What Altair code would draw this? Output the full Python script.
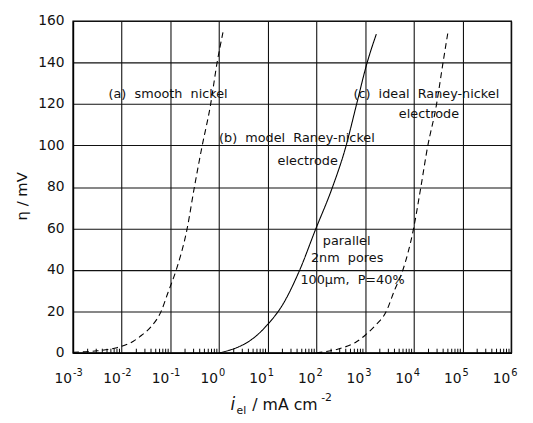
import altair as alt
import pandas as pd

# ---- data (log10 of current density / mA cm-2, overpotential / mV)
a_log = [-3.0, -2.5, -2.1, -1.76, -1.59, -1.4, -1.19, -1.05, -0.88, -0.66, -0.51, -0.35, -0.18, -0.04, 0.08]
a_eta = [0.3, 1.0, 2.5, 5.6, 8.5, 12.5, 20.0, 29.0, 40.0, 59.4, 79.5, 99.5, 118.9, 140.0, 154.5]
b_log = [0.0, 0.2, 0.43, 0.7, 0.99, 1.3, 1.65, 1.98, 2.32, 2.59, 2.83, 3.03, 3.23]
b_eta = [0.0, 1.2, 3.2, 7.0, 13.5, 23.0, 39.6, 59.4, 79.3, 98.3, 120.4, 139.0, 153.7]
c_log = [2.0, 2.5, 2.8, 3.0, 3.2, 3.43, 3.6, 3.77, 3.99, 4.14, 4.28, 4.46, 4.6, 4.7]
c_eta = [0.0, 2.2, 5.0, 8.5, 13.0, 19.8, 30.0, 39.6, 59.4, 79.3, 99.0, 119.0, 140.0, 154.5]

decades = [1e-3, 1e-2, 1e-1, 1e0, 1e1, 1e2, 1e3, 1e4, 1e5, 1e6]
dec_exp = ["-3", "-2", "-1", "0", "1", "2", "3", "4", "5", "6"]
minor_mult = [2, 3, 4, 5, 6, 7, 8, 9]
y_ticks = [0, 20, 40, 60, 80, 100, 120, 140, 160]

S = "\u00a0\u00a0"  # wide word gap as in the original lettering
ann_text = ["(a)" + S + "smooth" + S + "nickel", "(c)" + S + "ideal" + S + "Raney-nickel", "electrode",
            "(b)" + S + "model" + S + "Raney-nickel", "electrode", "parallel", "2nm" + S + "pores",
            "100μm," + S + "P=40%"]
ann_log = [-2.27, 2.76, 4.31, 0.0, 1.82, 2.62, 2.63, 2.74]
ann_eta = [125.0, 125.0, 114.9, 103.8, 92.7, 53.9, 45.5, 34.9]
ann_align = ["left", "left", "center", "left", "center", "center", "center", "center"]

rows = []
for name, lg, et in (("a", a_log, a_eta), ("b", b_log, b_eta), ("c", c_log, c_eta)):
    for l, e in zip(lg, et):
        rows.append({"curve": name, "i": 10 ** l, "eta": e})
df = pd.DataFrame(rows)

minor = pd.DataFrame([{"i": m * d, "y0": 0, "y1": 2.0} for d in decades[:-1] for m in minor_mult])
ann = pd.DataFrame({"text": ann_text, "i": [10 ** v for v in ann_log], "eta": ann_eta, "align": ann_align})
xlab = pd.DataFrame({"i": decades, "base": ["10"] * len(decades), "exp": dec_exp})

FONT = "DejaVu Sans"
INK = "#111"
W, H = 445, 337
x_scale = alt.Scale(type="log", domain=[1e-3, 1e6], nice=False)
y_scale = alt.Scale(domain=[0, 160], nice=False)

lines = alt.Chart(df).mark_line(color="black", strokeWidth=1.1, interpolate="monotone").encode(
    x=alt.X("i:Q", scale=x_scale,
            axis=alt.Axis(values=decades, labels=False, grid=True, ticks=False, title=None)),
    y=alt.Y("eta:Q", scale=y_scale,
            axis=alt.Axis(values=y_ticks, grid=True, ticks=False, title=None,
                          labelFontSize=14, labelPadding=9)),
    detail="curve:N",
    strokeDash=alt.StrokeDash("curve:N", scale=alt.Scale(domain=["a", "b", "c"],
                                                        range=[[6, 4], [1, 0], [6, 4]]), legend=None),
)

ticks = alt.Chart(minor).mark_rule(color="black", strokeWidth=1).encode(
    x=alt.X("i:Q", scale=x_scale), y=alt.Y("y0:Q", scale=y_scale), y2="y1:Q")

texts = []
for al in ("left", "center"):
    texts.append(alt.Chart(ann[ann["align"] == al]).mark_text(
        align=al, baseline="middle", font=FONT, fontSize=13, color=INK).encode(
        x=alt.X("i:Q", scale=x_scale), y=alt.Y("eta:Q", scale=y_scale), text="text:N"))

xbase = alt.Chart(xlab).mark_text(align="right", baseline="alphabetic", font=FONT, fontSize=14,
                                  color=INK, dx=-1).encode(
    x=alt.X("i:Q", scale=x_scale), y=alt.value(H + 31), text="base:N")
xexp = alt.Chart(xlab).mark_text(align="left", baseline="alphabetic", font=FONT, fontSize=10,
                                 color=INK, dx=0).encode(
    x=alt.X("i:Q", scale=x_scale), y=alt.value(H + 23), text="exp:N")

one = pd.DataFrame({"k": [0]})
def piece(txt, px, py, size, style="normal", angle=0, align="left"):
    return alt.Chart(one).mark_text(text=txt, align=align, baseline="alphabetic", font=FONT,
                                    fontSize=size, fontStyle=style, angle=angle, color=INK).encode(
        x=alt.value(px), y=alt.value(py))

titles = [piece("i", 160, 395, 17, "italic"), piece("el", 166, 399, 11),
          piece("/ mA cm", 182, 395, 16), piece("-2", 252, 386, 11),
          piece("η\u00a0/\u00a0mV", -47, 178, 15, angle=270, align="center")]

chart = alt.layer(lines, ticks, *texts, xbase, xexp, *titles).properties(
    width=W, height=H,
    padding={"left": 66, "top": 10, "right": 14, "bottom": 68},
    autosize=alt.AutoSizeParams(type="none"),
    background="white",
).configure_view(stroke="black", strokeWidth=1.4).configure_axis(
    gridColor="#111", gridWidth=1.1, gridOpacity=1, domainColor="black", domainWidth=1.4,
    labelFont=FONT, titleFont=FONT, labelColor=INK, titleColor=INK,
)

chart.save("out.html", embed_options={"renderer": "svg", "actions": False})
